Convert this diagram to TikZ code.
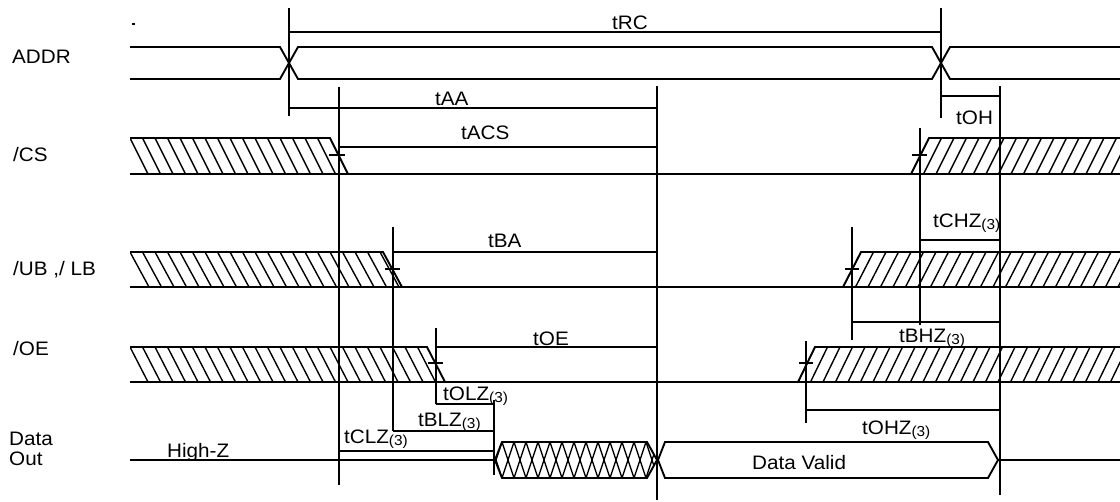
\documentclass[tikz,border=0pt]{standalone}
\usepackage{fontspec}
\setmainfont{Liberation Sans}[FakeStretch=1.06]
\newcommand\lblfont{\fontsize{19.5}{22}\selectfont}
\newcommand\sthree{\raisebox{-2pt}{\fontsize{14.5}{15}\selectfont(3)}}
\begin{document}
\begin{tikzpicture}[x=1pt,y=-1pt,
  sig/.style={line width=1.9pt},
  tm/.style={line width=1.7pt},
  hat/.style={line width=1.4pt},
  tick/.style={line width=1.5pt},
  lbl/.style={font=\lblfont,inner sep=0pt,anchor=base west},
  line join=miter]
\useasboundingbox (0,0) rectangle (1120,502);
\fill (132,23.3) rectangle (134.5,25);

% ---------- signal names ----------
\node[lbl] (nADDR) at (12,64) {ADDR};
\node[lbl] (nCS) at (13,162) {/CS};
\node[lbl] (nUB) at (13,276) {/UB ,/ LB};
\node[lbl] (nOE) at (13,356) {/OE};
\node[lbl] (nData) at (9,446) {Data};
\node[lbl] (nOut) at (9,466) {Out};

% ---------- ADDR ----------
\draw[sig] (130,47) -- (280,47) -- (298,79) -- (932,79) -- (950,47) -- (1120,47);
\draw[sig] (130,79) -- (280,79) -- (298,47) -- (932,47) -- (950,79) -- (1120,79);

% ---------- /CS ----------
\begin{scope}
\clip (130,138) -- (330,138) -- (348,174) -- (130,174) -- cycle;
\foreach \x in {130,142.5,...,345} \draw[hat] (\x,138) -- (\x+18,174);
\end{scope}
\begin{scope}
\clip (911,174) -- (929,138) -- (1120,138) -- (1120,174) -- cycle;
\foreach \x in {911,923.5,...,1130} \draw[hat] (\x,174) -- (\x+18,138);
\end{scope}
\draw[sig] (130,138) -- (330,138) -- (348,174);
\draw[sig] (130,174) -- (1120,174);
\draw[sig] (911,174) -- (929,138) -- (1120,138);
\draw[tick] (329,155) -- (345,155);
\draw[tick] (912,155) -- (927,155);

% ---------- /UB,/LB ----------
\begin{scope}
\clip (130,252) -- (383,252) -- (402,287) -- (130,287) -- cycle;
\foreach \x in {130,142.5,...,400} \draw[hat] (\x,252) -- (\x+19,287);
\end{scope}
\begin{scope}
\clip (843,287) -- (861,252) -- (1120,252) -- (1120,287) -- cycle;
\foreach \x in {843,855.5,...,1130} \draw[hat] (\x,287) -- (\x+18,252);
\end{scope}
\draw[sig] (130,252) -- (383,252) -- (402,287);
\draw[sig] (130,287) -- (1120,287);
\draw[sig] (843,287) -- (861,252) -- (1120,252);
\draw[tick] (385,269) -- (400,269);
\draw[tick] (845,269) -- (859,269);

% ---------- /OE ----------
\begin{scope}
\clip (130,347) -- (427,347) -- (445,382) -- (130,382) -- cycle;
\foreach \x in {130,142.5,...,440} \draw[hat] (\x,347) -- (\x+18,382);
\end{scope}
\begin{scope}
\clip (798,382) -- (815,347) -- (1120,347) -- (1120,382) -- cycle;
\foreach \x in {798,810.5,...,1130} \draw[hat] (\x,382) -- (\x+17,347);
\end{scope}
\draw[sig] (130,347) -- (427,347) -- (445,382);
\draw[sig] (130,382) -- (1120,382);
\draw[sig] (798,382) -- (815,347) -- (1120,347);
\draw[tick] (428,363) -- (443,363);
\draw[tick] (799,363) -- (813,363);

% ---------- Data Out ----------
\draw[sig] (130,460) -- (495,460);
\begin{scope}
\clip (495,460) -- (502,442) -- (647,442) -- (657,460) -- (647,478) -- (502,478) -- cycle;
\foreach \x in {490,502,...,660} {
  \draw[hat] (\x,442) -- (\x+12,478);
  \draw[hat] (\x,478) -- (\x+12,442);
}
\end{scope}
\draw[sig] (495,460) -- (502,442) -- (647,442) -- (657,460) -- (647,478) -- (502,478) -- cycle;
\draw[sig] (658,460) -- (665,442) -- (988,442) -- (998,460) -- (988,478) -- (665,478) -- cycle;
\draw[sig] (998,460) -- (1120,460);
\node[lbl] (nHZ) at (167,458) {High-Z};
\node[lbl] (nDV) at (752,470) {Data Valid};

% ---------- timing verticals ----------
\draw[tm] (289,8) -- (289,116);
\draw[tm] (941,8) -- (941,118);
\draw[tm] (339,87) -- (339,485);
\draw[tm] (657,86) -- (657,500);
\draw[tm] (1000,86) -- (1000,495);
\draw[tm] (920,128) -- (920,325);
\draw[tm] (393,227) -- (393,431);
\draw[tm] (852,227) -- (852,340);
\draw[tm] (436,328) -- (436,404);
\draw[tm] (806,341) -- (806,423);
\draw[tm] (494,400) -- (494,475);

% ---------- timing horizontals ----------
\draw[tm] (289,32) -- (941,32);
\draw[tm] (289,108) -- (657,108);
\draw[tm] (941,96) -- (1000,96);
\draw[tm] (339,147) -- (657,147);
\draw[tm] (920,240) -- (1000,240);
\draw[tm] (393,252) -- (657,252);
\draw[tm] (436,347) -- (657,347);
\draw[tm] (852,322) -- (1000,322);
\draw[tm] (806,410) -- (1000,410);
\draw[tm] (436,404) -- (494,404);
\draw[tm] (393,431) -- (494,431);
\draw[tm] (339,451) -- (494,451);

% ---------- timing labels ----------
\node[lbl] (lRC) at (612,30) {tRC};
\node[lbl] (lAA) at (435,106) {tAA};
\node[lbl] (lACS) at (461,140) {tACS};
\node[lbl] (lOH) at (956,125) {tOH};
\node[lbl] (lCHZ) at (933,228) {tCHZ\sthree};
\node[lbl] (lBA) at (488,248) {tBA};
\node[lbl] (lOE) at (533,346) {tOE};
\node[lbl] (lBHZ) at (899,343) {tBHZ\sthree};
\node[lbl] (lOHZ) at (862,435) {tOHZ\sthree};
\node[lbl] (lOLZ) at (443,401) {tOLZ\sthree};
\node[lbl] (lBLZ) at (418,427) {tBLZ\sthree};
\node[lbl] (lCLZ) at (344,444) {tCLZ\sthree};
\end{tikzpicture}
\end{document}
